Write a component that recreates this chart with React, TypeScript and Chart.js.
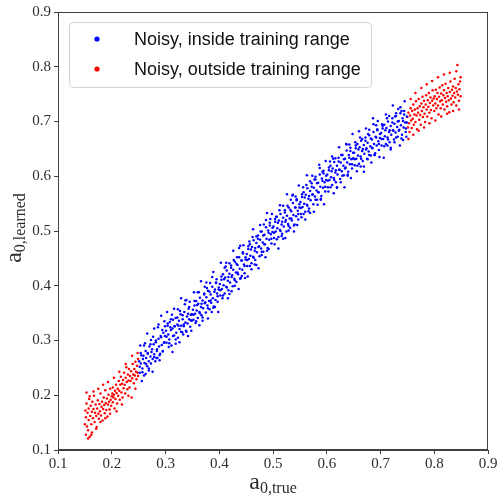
import React, { useEffect, useRef } from "react";
import { Chart, registerables } from "chart.js";

Chart.register(...registerables);

// Noisy estimates, inside training range (x = a0,true, y = a0,learned)
const blueSetA: [number, number][] = [
  [0.251, 0.262], [0.252, 0.241], [0.254, 0.258], [0.255, 0.273], [0.257, 0.249], [0.258, 0.266], [0.260, 0.236], [0.261, 0.259],
  [0.263, 0.281], [0.264, 0.268], [0.266, 0.253], [0.267, 0.277], [0.269, 0.262], [0.270, 0.289], [0.272, 0.271], [0.273, 0.258],
  [0.275, 0.284], [0.276, 0.266], [0.278, 0.293], [0.279, 0.275], [0.281, 0.262], [0.282, 0.297], [0.284, 0.281], [0.285, 0.268],
  [0.287, 0.303], [0.288, 0.289], [0.290, 0.276], [0.291, 0.308], [0.293, 0.292], [0.295, 0.281], [0.296, 0.314], [0.298, 0.297],
  [0.299, 0.326],
  [0.301, 0.318], [0.302, 0.296], [0.304, 0.327], [0.305, 0.311], [0.307, 0.302], [0.308, 0.334], [0.310, 0.319], [0.311, 0.291],
  [0.313, 0.322], [0.314, 0.338], [0.316, 0.309], [0.317, 0.326], [0.319, 0.341], [0.320, 0.314], [0.322, 0.329], [0.323, 0.305],
  [0.325, 0.336], [0.326, 0.321], [0.328, 0.348], [0.329, 0.327], [0.331, 0.315], [0.332, 0.339], [0.334, 0.326], [0.335, 0.352],
  [0.337, 0.333], [0.338, 0.318], [0.340, 0.344], [0.341, 0.331], [0.343, 0.358], [0.344, 0.339], [0.346, 0.325], [0.347, 0.347],
  [0.349, 0.336],
  [0.351, 0.356], [0.352, 0.338], [0.354, 0.364], [0.355, 0.349], [0.357, 0.372], [0.358, 0.355], [0.360, 0.341], [0.361, 0.367],
  [0.363, 0.352], [0.364, 0.378], [0.366, 0.361], [0.367, 0.346], [0.369, 0.373], [0.370, 0.359], [0.372, 0.386], [0.373, 0.368],
  [0.375, 0.351], [0.376, 0.379], [0.378, 0.364], [0.379, 0.391], [0.381, 0.372], [0.382, 0.357], [0.384, 0.384], [0.385, 0.369],
  [0.387, 0.398], [0.388, 0.377], [0.390, 0.362], [0.391, 0.389], [0.393, 0.374], [0.394, 0.405], [0.396, 0.386], [0.397, 0.371],
  [0.399, 0.397],
  [0.401, 0.403], [0.402, 0.382], [0.404, 0.411], [0.405, 0.394], [0.407, 0.421], [0.408, 0.401], [0.410, 0.386], [0.411, 0.415],
  [0.413, 0.398], [0.414, 0.428], [0.416, 0.409], [0.417, 0.392], [0.419, 0.422], [0.420, 0.406], [0.422, 0.437], [0.423, 0.416],
  [0.425, 0.399], [0.426, 0.429], [0.428, 0.413], [0.429, 0.444], [0.431, 0.424], [0.432, 0.407], [0.434, 0.438], [0.435, 0.421],
  [0.437, 0.452], [0.438, 0.431], [0.440, 0.414], [0.441, 0.446], [0.443, 0.429], [0.444, 0.461], [0.446, 0.439], [0.447, 0.423],
  [0.449, 0.452],
  [0.451, 0.458], [0.452, 0.436], [0.454, 0.467], [0.455, 0.449], [0.457, 0.476], [0.458, 0.455], [0.460, 0.441], [0.461, 0.471],
  [0.463, 0.453], [0.464, 0.483], [0.466, 0.464], [0.467, 0.447], [0.469, 0.478], [0.470, 0.461], [0.472, 0.492], [0.473, 0.471],
  [0.475, 0.454], [0.476, 0.484], [0.478, 0.468], [0.479, 0.499], [0.481, 0.479], [0.482, 0.462], [0.484, 0.493], [0.485, 0.476],
  [0.487, 0.507], [0.488, 0.486], [0.490, 0.469], [0.491, 0.501], [0.493, 0.484], [0.494, 0.515], [0.496, 0.494], [0.497, 0.477],
  [0.499, 0.506],
  [0.501, 0.508], [0.502, 0.487], [0.504, 0.517], [0.505, 0.499], [0.507, 0.526], [0.508, 0.505], [0.510, 0.489], [0.511, 0.519],
  [0.513, 0.502], [0.514, 0.531], [0.516, 0.512], [0.517, 0.495], [0.519, 0.524], [0.520, 0.508], [0.522, 0.538], [0.523, 0.517],
  [0.525, 0.499], [0.526, 0.528], [0.528, 0.513], [0.529, 0.543], [0.531, 0.523], [0.532, 0.506], [0.534, 0.536], [0.535, 0.519],
  [0.537, 0.551], [0.538, 0.529], [0.540, 0.512], [0.541, 0.543], [0.543, 0.527], [0.544, 0.558], [0.546, 0.537], [0.547, 0.521],
  [0.549, 0.549],
  [0.551, 0.553], [0.552, 0.531], [0.554, 0.562], [0.555, 0.544], [0.557, 0.571], [0.558, 0.550], [0.560, 0.535], [0.561, 0.566],
  [0.563, 0.548], [0.564, 0.578], [0.566, 0.559], [0.567, 0.541], [0.569, 0.573], [0.570, 0.556], [0.572, 0.587], [0.573, 0.566],
  [0.575, 0.549], [0.576, 0.579], [0.578, 0.563], [0.579, 0.594], [0.581, 0.574], [0.582, 0.557], [0.584, 0.588], [0.585, 0.571],
  [0.587, 0.603], [0.588, 0.581], [0.590, 0.564], [0.591, 0.596], [0.593, 0.579], [0.594, 0.610], [0.596, 0.589], [0.597, 0.572],
  [0.599, 0.601],
  [0.601, 0.603], [0.602, 0.580], [0.604, 0.611], [0.605, 0.593], [0.607, 0.619], [0.608, 0.598], [0.610, 0.584], [0.611, 0.614],
  [0.613, 0.597], [0.614, 0.626], [0.616, 0.607], [0.617, 0.589], [0.619, 0.619], [0.620, 0.603], [0.622, 0.634], [0.623, 0.612],
  [0.625, 0.595], [0.626, 0.625], [0.628, 0.609], [0.629, 0.639], [0.631, 0.619], [0.632, 0.602], [0.634, 0.632], [0.635, 0.616],
  [0.637, 0.647], [0.638, 0.625], [0.640, 0.608], [0.641, 0.639], [0.643, 0.622], [0.644, 0.652], [0.646, 0.631], [0.647, 0.614],
  [0.649, 0.643],
  [0.651, 0.643], [0.652, 0.620], [0.654, 0.651], [0.655, 0.632], [0.657, 0.659], [0.658, 0.638], [0.660, 0.623], [0.661, 0.653],
  [0.663, 0.636], [0.664, 0.665], [0.666, 0.646], [0.667, 0.628], [0.669, 0.657], [0.670, 0.641], [0.672, 0.671], [0.673, 0.649],
  [0.675, 0.632], [0.676, 0.661], [0.678, 0.645], [0.679, 0.675], [0.681, 0.655], [0.682, 0.638], [0.684, 0.667], [0.685, 0.651],
  [0.687, 0.681], [0.688, 0.659], [0.690, 0.642], [0.691, 0.672], [0.693, 0.656], [0.694, 0.686], [0.696, 0.664], [0.697, 0.648],
  [0.699, 0.677],
  [0.701, 0.679], [0.702, 0.656], [0.704, 0.687], [0.705, 0.668], [0.707, 0.694], [0.708, 0.673], [0.710, 0.659], [0.711, 0.688],
  [0.713, 0.671], [0.714, 0.700], [0.716, 0.681], [0.717, 0.662], [0.719, 0.692], [0.720, 0.676], [0.722, 0.706], [0.723, 0.684],
  [0.725, 0.667], [0.726, 0.696], [0.728, 0.680], [0.729, 0.710], [0.731, 0.690], [0.732, 0.672], [0.734, 0.701], [0.735, 0.685],
  [0.737, 0.715], [0.738, 0.693], [0.740, 0.676], [0.741, 0.706], [0.743, 0.689], [0.744, 0.719], [0.746, 0.698], [0.747, 0.681],
  [0.749, 0.709],
];

const blueSetB: [number, number][] = [
  [0.252, 0.252], [0.254, 0.277], [0.257, 0.242], [0.259, 0.272], [0.262, 0.295], [0.264, 0.257], [0.267, 0.276], [0.269, 0.245],
  [0.272, 0.293], [0.274, 0.279], [0.277, 0.307], [0.279, 0.270], [0.282, 0.300], [0.284, 0.284], [0.287, 0.329], [0.289, 0.273],
  [0.292, 0.306], [0.294, 0.319], [0.297, 0.296], [0.299, 0.308],
  [0.302, 0.307], [0.304, 0.331], [0.307, 0.295], [0.309, 0.324], [0.312, 0.347], [0.314, 0.308], [0.317, 0.326], [0.319, 0.294],
  [0.322, 0.342], [0.324, 0.327], [0.327, 0.354], [0.329, 0.316], [0.332, 0.346], [0.334, 0.329], [0.337, 0.373], [0.339, 0.316],
  [0.342, 0.349], [0.344, 0.361], [0.347, 0.337], [0.349, 0.348],
  [0.352, 0.347], [0.354, 0.372], [0.357, 0.335], [0.359, 0.365], [0.362, 0.388], [0.364, 0.350], [0.367, 0.367], [0.369, 0.336],
  [0.372, 0.384], [0.374, 0.370], [0.377, 0.396], [0.379, 0.359], [0.382, 0.389], [0.384, 0.373], [0.387, 0.416], [0.389, 0.360],
  [0.392, 0.393], [0.394, 0.406], [0.397, 0.381], [0.399, 0.393],
  [0.402, 0.392], [0.404, 0.417], [0.407, 0.382], [0.409, 0.412], [0.412, 0.435], [0.414, 0.397], [0.417, 0.416], [0.419, 0.385],
  [0.422, 0.433], [0.424, 0.419], [0.427, 0.447], [0.429, 0.410], [0.432, 0.440], [0.434, 0.424], [0.437, 0.469], [0.439, 0.413],
  [0.442, 0.446], [0.444, 0.459], [0.447, 0.436], [0.449, 0.448],
  [0.452, 0.447], [0.454, 0.472], [0.457, 0.436], [0.459, 0.466], [0.462, 0.489], [0.464, 0.451], [0.467, 0.469], [0.469, 0.438],
  [0.472, 0.486], [0.474, 0.472], [0.477, 0.499], [0.479, 0.462], [0.482, 0.492], [0.484, 0.476], [0.487, 0.520], [0.489, 0.464],
  [0.492, 0.497], [0.494, 0.510], [0.497, 0.486], [0.499, 0.498],
  [0.502, 0.497], [0.504, 0.522], [0.507, 0.485], [0.509, 0.515], [0.512, 0.538], [0.514, 0.500], [0.517, 0.517], [0.519, 0.486],
  [0.522, 0.534], [0.524, 0.520], [0.527, 0.546], [0.529, 0.509], [0.532, 0.539], [0.534, 0.523], [0.537, 0.566], [0.539, 0.510],
  [0.542, 0.543], [0.544, 0.556], [0.547, 0.531], [0.549, 0.543],
  [0.552, 0.542], [0.554, 0.567], [0.557, 0.531], [0.559, 0.561], [0.562, 0.584], [0.564, 0.546], [0.567, 0.564], [0.569, 0.533],
  [0.572, 0.581], [0.574, 0.567], [0.577, 0.594], [0.579, 0.557], [0.582, 0.587], [0.584, 0.571], [0.587, 0.615], [0.589, 0.559],
  [0.592, 0.592], [0.594, 0.605], [0.597, 0.581], [0.599, 0.593],
  [0.602, 0.592], [0.604, 0.616], [0.607, 0.580], [0.609, 0.609], [0.612, 0.632], [0.614, 0.593], [0.617, 0.611], [0.619, 0.579],
  [0.622, 0.627], [0.624, 0.612], [0.627, 0.639], [0.629, 0.601], [0.632, 0.631], [0.634, 0.614], [0.637, 0.658], [0.639, 0.601],
  [0.642, 0.634], [0.644, 0.646], [0.647, 0.622], [0.649, 0.633],
  [0.652, 0.631], [0.654, 0.656], [0.657, 0.619], [0.659, 0.649], [0.662, 0.671], [0.664, 0.632], [0.667, 0.650], [0.669, 0.618],
  [0.672, 0.665], [0.674, 0.651], [0.677, 0.677], [0.679, 0.639], [0.682, 0.669], [0.684, 0.652], [0.687, 0.695], [0.689, 0.639],
  [0.692, 0.671], [0.694, 0.684], [0.697, 0.659], [0.699, 0.670],
  [0.702, 0.668], [0.704, 0.692], [0.707, 0.655], [0.709, 0.684], [0.712, 0.706], [0.714, 0.667], [0.717, 0.684], [0.719, 0.652],
  [0.722, 0.698], [0.724, 0.683], [0.727, 0.709], [0.729, 0.671], [0.732, 0.700], [0.734, 0.683], [0.737, 0.726], [0.739, 0.669],
  [0.742, 0.701], [0.744, 0.713], [0.747, 0.687], [0.749, 0.698],
];

// wider-scattered inside-range estimates
const blueSetC: [number, number][] = [
  [0.253, 0.291], [0.256, 0.226], [0.260, 0.291], [0.263, 0.239], [0.266, 0.313], [0.269, 0.249], [0.273, 0.301], [0.276, 0.243],
  [0.279, 0.322], [0.283, 0.268], [0.286, 0.324], [0.289, 0.264], [0.292, 0.345], [0.295, 0.280], [0.298, 0.335],
  [0.303, 0.352], [0.306, 0.288], [0.310, 0.339], [0.313, 0.279], [0.316, 0.358], [0.319, 0.302], [0.323, 0.357], [0.326, 0.297],
  [0.329, 0.377], [0.333, 0.311], [0.336, 0.366], [0.339, 0.374], [0.342, 0.308], [0.345, 0.371], [0.348, 0.318],
  [0.353, 0.388], [0.356, 0.332], [0.360, 0.388], [0.363, 0.328], [0.366, 0.408], [0.369, 0.342], [0.373, 0.398], [0.376, 0.406],
  [0.379, 0.340], [0.383, 0.405], [0.386, 0.352], [0.389, 0.425], [0.392, 0.361], [0.395, 0.412], [0.398, 0.352],
  [0.403, 0.442], [0.406, 0.377], [0.410, 0.433], [0.413, 0.442], [0.416, 0.377], [0.419, 0.441], [0.423, 0.390], [0.426, 0.464],
  [0.429, 0.400], [0.433, 0.452], [0.436, 0.394], [0.439, 0.473], [0.442, 0.418], [0.445, 0.474], [0.448, 0.414],
  [0.453, 0.417], [0.456, 0.481], [0.460, 0.430], [0.463, 0.503], [0.466, 0.439], [0.469, 0.490], [0.473, 0.432], [0.476, 0.511],
  [0.479, 0.456], [0.483, 0.512], [0.486, 0.452], [0.489, 0.533], [0.492, 0.467], [0.495, 0.522], [0.498, 0.531],
  [0.503, 0.476], [0.506, 0.526], [0.510, 0.468], [0.513, 0.547], [0.516, 0.491], [0.519, 0.546], [0.523, 0.487], [0.526, 0.567],
  [0.529, 0.501], [0.533, 0.557], [0.536, 0.565], [0.539, 0.499], [0.542, 0.563], [0.545, 0.511], [0.548, 0.583],
  [0.553, 0.525], [0.556, 0.580], [0.560, 0.521], [0.563, 0.602], [0.566, 0.536], [0.569, 0.591], [0.573, 0.601], [0.576, 0.535],
  [0.579, 0.599], [0.583, 0.548], [0.586, 0.621], [0.589, 0.557], [0.592, 0.608], [0.595, 0.549], [0.598, 0.628],
  [0.603, 0.572], [0.606, 0.627], [0.610, 0.636], [0.613, 0.569], [0.616, 0.633], [0.619, 0.580], [0.623, 0.653], [0.626, 0.589],
  [0.629, 0.639], [0.633, 0.580], [0.636, 0.659], [0.639, 0.603], [0.642, 0.658], [0.645, 0.597], [0.648, 0.677],
  [0.653, 0.662], [0.656, 0.609], [0.660, 0.682], [0.663, 0.618], [0.666, 0.668], [0.669, 0.608], [0.673, 0.687], [0.676, 0.631],
  [0.679, 0.685], [0.683, 0.625], [0.686, 0.706], [0.689, 0.639], [0.692, 0.693], [0.695, 0.701], [0.698, 0.635],
  [0.703, 0.695], [0.706, 0.634], [0.710, 0.713], [0.713, 0.656], [0.716, 0.710], [0.719, 0.649], [0.723, 0.729], [0.726, 0.662],
  [0.729, 0.715], [0.733, 0.723], [0.736, 0.656], [0.739, 0.719], [0.742, 0.666], [0.745, 0.737], [0.748, 0.672],
];

// Noisy estimates, outside training range (low end)
const redLow: [number, number][] = [
  [0.150, 0.147], [0.151, 0.172], [0.152, 0.128], [0.152, 0.160], [0.153, 0.185], [0.154, 0.143], [0.155, 0.168], [0.156, 0.136],
  [0.157, 0.176], [0.157, 0.155], [0.158, 0.193], [0.159, 0.124], [0.160, 0.162], [0.161, 0.181], [0.162, 0.147], [0.163, 0.170],
  [0.163, 0.132], [0.164, 0.188], [0.165, 0.158], [0.166, 0.175], [0.167, 0.199], [0.168, 0.151], [0.169, 0.168], [0.170, 0.183],
  [0.171, 0.162], [0.172, 0.142], [0.173, 0.176], [0.174, 0.191], [0.175, 0.166], [0.176, 0.157], [0.177, 0.184], [0.178, 0.171],
  [0.179, 0.203], [0.180, 0.163], [0.181, 0.179], [0.182, 0.188], [0.183, 0.154], [0.184, 0.175], [0.185, 0.196], [0.186, 0.182],
  [0.187, 0.167], [0.188, 0.209], [0.189, 0.186], [0.190, 0.173], [0.191, 0.194], [0.192, 0.161], [0.193, 0.183], [0.194, 0.201],
  [0.195, 0.188], [0.196, 0.174], [0.197, 0.212], [0.198, 0.192], [0.199, 0.181],
  [0.200, 0.198], [0.201, 0.203], [0.202, 0.187], [0.202, 0.214], [0.203, 0.196], [0.204, 0.201], [0.205, 0.176], [0.206, 0.208],
  [0.207, 0.193], [0.208, 0.219], [0.209, 0.204], [0.210, 0.185], [0.211, 0.212], [0.212, 0.199], [0.213, 0.226], [0.214, 0.208],
  [0.215, 0.192], [0.216, 0.219], [0.217, 0.234], [0.218, 0.205], [0.219, 0.221], [0.220, 0.196], [0.221, 0.228], [0.222, 0.213],
  [0.223, 0.241], [0.224, 0.219], [0.225, 0.203], [0.226, 0.232], [0.227, 0.251], [0.228, 0.224], [0.229, 0.211], [0.230, 0.238],
  [0.231, 0.227], [0.232, 0.248], [0.233, 0.214], [0.234, 0.235], [0.235, 0.226], [0.236, 0.244], [0.237, 0.196], [0.238, 0.231],
  [0.239, 0.257], [0.240, 0.238], [0.241, 0.222], [0.242, 0.248], [0.243, 0.236], [0.244, 0.261], [0.245, 0.243], [0.246, 0.229],
  [0.247, 0.254], [0.248, 0.241], [0.249, 0.266], [0.249, 0.235],
  [0.153, 0.205], [0.156, 0.121], [0.159, 0.198], [0.162, 0.128], [0.166, 0.207], [0.171, 0.139], [0.175, 0.212], [0.179, 0.151],
  [0.184, 0.219], [0.188, 0.158], [0.193, 0.224], [0.197, 0.166], [0.204, 0.232], [0.209, 0.171], [0.214, 0.243], [0.219, 0.183],
  [0.226, 0.257], [0.231, 0.199], [0.238, 0.272], [0.244, 0.212], [0.248, 0.277],
];

// Noisy estimates, outside training range (high end)
const redHigh: [number, number][] = [
  [0.750, 0.708], [0.751, 0.689], [0.752, 0.716], [0.753, 0.697], [0.754, 0.681], [0.755, 0.711], [0.756, 0.724], [0.757, 0.702],
  [0.758, 0.688], [0.759, 0.719], [0.760, 0.705], [0.761, 0.731], [0.762, 0.694], [0.763, 0.713], [0.764, 0.722], [0.765, 0.699],
  [0.766, 0.737], [0.767, 0.711], [0.768, 0.686], [0.769, 0.724], [0.770, 0.716], [0.771, 0.741], [0.772, 0.703], [0.773, 0.728],
  [0.774, 0.712], [0.775, 0.694], [0.776, 0.733], [0.777, 0.719], [0.778, 0.745], [0.779, 0.708], [0.780, 0.726], [0.781, 0.738],
  [0.782, 0.714], [0.783, 0.699], [0.784, 0.731], [0.785, 0.748], [0.786, 0.722], [0.787, 0.709], [0.788, 0.739], [0.789, 0.727],
  [0.790, 0.752], [0.791, 0.716], [0.792, 0.734], [0.793, 0.744], [0.794, 0.721], [0.795, 0.706], [0.796, 0.738], [0.797, 0.757],
  [0.798, 0.729], [0.799, 0.742],
  [0.800, 0.719], [0.801, 0.746], [0.802, 0.733], [0.803, 0.758], [0.804, 0.724], [0.805, 0.741], [0.806, 0.752], [0.807, 0.729],
  [0.808, 0.713], [0.809, 0.745], [0.810, 0.762], [0.811, 0.737], [0.812, 0.724], [0.813, 0.751], [0.814, 0.739], [0.815, 0.766],
  [0.816, 0.731], [0.817, 0.748], [0.818, 0.757], [0.819, 0.722], [0.820, 0.743], [0.821, 0.769], [0.822, 0.736], [0.823, 0.752],
  [0.824, 0.728], [0.825, 0.746], [0.826, 0.761], [0.827, 0.739], [0.828, 0.717], [0.829, 0.754], [0.830, 0.773], [0.831, 0.742],
  [0.832, 0.731], [0.833, 0.758], [0.834, 0.747], [0.835, 0.764], [0.836, 0.735], [0.837, 0.752], [0.838, 0.778], [0.839, 0.744],
  [0.840, 0.761], [0.841, 0.729], [0.842, 0.755], [0.843, 0.803], [0.844, 0.749], [0.845, 0.768], [0.846, 0.738], [0.847, 0.759],
  [0.848, 0.773], [0.849, 0.746],
  [0.752, 0.668], [0.756, 0.741], [0.761, 0.676], [0.765, 0.752], [0.771, 0.683], [0.776, 0.761], [0.781, 0.689], [0.786, 0.768],
  [0.791, 0.697], [0.796, 0.774], [0.802, 0.702], [0.807, 0.781], [0.813, 0.709], [0.818, 0.786], [0.824, 0.714], [0.829, 0.789],
  [0.835, 0.719], [0.841, 0.792], [0.846, 0.722], [0.849, 0.781],
];

const xTickValues = [0.1, 0.2, 0.3, 0.4, 0.5, 0.6, 0.7, 0.8, 0.9];
const yTickValues = [0.1, 0.2, 0.3, 0.4, 0.5, 0.6, 0.7, 0.8, 0.9];
const seriesLabels = ["Noisy, inside training range", "Noisy, outside training range"];
const seriesColors = ["#0000ff", "#ff0000"];
const xTitle = { main: "a", sub: "0,true" };
const yTitle = { main: "a", sub: "0,learned" };

const TEXT = "#2e2e2e";
const SERIF = "'Liberation Serif', 'DejaVu Serif', serif";
const SANS = "'Liberation Sans', 'DejaVu Sans', sans-serif";

const toPoints = (arr: [number, number][]) => arr.map(([x, y]) => ({ x, y }));

const framePlugin = {
  id: "frame",
  afterDatasetsDraw(chart: any) {
    const { ctx, chartArea } = chart;
    ctx.save();
    ctx.strokeStyle = "#404040";
    ctx.lineWidth = 1;
    const l = Math.round(chartArea.left) + 0.5;
    const t = Math.round(chartArea.top) + 0.5;
    const r = Math.round(chartArea.right) - 0.5;
    const b = Math.round(chartArea.bottom) - 0.5;
    ctx.strokeRect(l, t, r - l, b - t);
    ctx.restore();
  },
};

const legendPlugin = {
  id: "innerLegend",
  afterDatasetsDraw(chart: any) {
    const { ctx, chartArea } = chart;
    const x0 = chartArea.left + 11;
    const y0 = chartArea.top + 10;
    const w = 302;
    const h = 65;
    ctx.save();
    ctx.beginPath();
    if ((ctx as any).roundRect) (ctx as any).roundRect(x0 + 0.5, y0 + 0.5, w, h, 4);
    else ctx.rect(x0 + 0.5, y0 + 0.5, w, h);
    ctx.fillStyle = "rgba(255,255,255,0.85)";
    ctx.fill();
    ctx.strokeStyle = "#d4d4d4";
    ctx.lineWidth = 1;
    ctx.stroke();
    chart.data.datasets.forEach((ds: any, i: number) => {
      const cy = y0 + 17 + i * 30;
      ctx.beginPath();
      ctx.arc(x0 + 28, cy, 2.6, 0, Math.PI * 2);
      ctx.fillStyle = ds.backgroundColor;
      ctx.fill();
      ctx.fillStyle = "#111";
      ctx.font = `18px ${SANS}`;
      ctx.textBaseline = "middle";
      ctx.textAlign = "left";
      ctx.fillText(ds.label, x0 + 65, cy + 1);
    });
    ctx.restore();
  },
};

const titlesPlugin = {
  id: "mathTitles",
  afterDraw(chart: any) {
    const { ctx, chartArea } = chart;
    const mainFont = `24px ${SERIF}`;
    const subFont = `16px ${SERIF}`;
    const drawLabel = (main: string, sub: string) => {
      ctx.font = mainFont;
      const wm = ctx.measureText(main).width;
      ctx.font = subFont;
      const ws = ctx.measureText(sub).width;
      const start = -(wm + ws) / 2;
      ctx.textAlign = "left";
      ctx.textBaseline = "alphabetic";
      ctx.fillStyle = TEXT;
      ctx.font = mainFont;
      ctx.fillText(main, start, 0);
      ctx.font = subFont;
      ctx.fillText(sub, start + wm, 4);
    };
    ctx.save();
    ctx.translate((chartArea.left + chartArea.right) / 2, 489);
    drawLabel(xTitle.main, xTitle.sub);
    ctx.restore();
    ctx.save();
    ctx.translate(21, 228);
    ctx.rotate(-Math.PI / 2);
    drawLabel(yTitle.main, yTitle.sub);
    ctx.restore();
  },
};

export default function App() {
  const canvasRef = useRef<HTMLCanvasElement | null>(null);

  useEffect(() => {
    const canvas = canvasRef.current;
    if (!canvas) return;
    const tickFont = { family: SERIF, size: 15 };
    const chart = new Chart(canvas, {
      type: "scatter",
      data: {
        datasets: [
          {
            label: seriesLabels[0],
            data: [...toPoints(blueSetA), ...toPoints(blueSetB), ...toPoints(blueSetC)],
            backgroundColor: seriesColors[0],
            borderWidth: 0,
            pointRadius: 1.25,
          },
          {
            label: seriesLabels[1],
            data: [...toPoints(redLow), ...toPoints(redHigh)],
            backgroundColor: seriesColors[1],
            borderWidth: 0,
            pointRadius: 1.25,
          },
        ],
      },
      options: {
        animation: false,
        responsive: false,
        devicePixelRatio: 1,
        layout: { padding: { top: 10, right: 11, left: 0, bottom: 0 } },
        plugins: {
          legend: { display: false },
          tooltip: { enabled: false },
        },
        scales: {
          x: {
            type: "linear",
            min: 0.1,
            max: 0.9,
            afterBuildTicks: (scale: any) => {
              scale.ticks = xTickValues.map((v) => ({ value: v }));
            },
            afterFit: (scale: any) => {
              scale.height = 50;
            },
            ticks: {
              font: tickFont,
              color: TEXT,
              padding: 1,
              maxRotation: 0,
              callback: (v: any) => Number(v).toFixed(1),
            },
            grid: { drawOnChartArea: false, drawTicks: true, tickLength: 4, color: "#404040" },
            border: { display: true, color: "#404040" },
          },
          y: {
            type: "linear",
            min: 0.1,
            max: 0.9,
            afterBuildTicks: (scale: any) => {
              scale.ticks = yTickValues.map((v) => ({ value: v }));
            },
            afterFit: (scale: any) => {
              scale.width = 58;
            },
            ticks: {
              font: tickFont,
              color: TEXT,
              padding: 3,
              callback: (v: any) => Number(v).toFixed(1),
            },
            grid: { drawOnChartArea: false, drawTicks: true, tickLength: 4, color: "#404040" },
            border: { display: true, color: "#404040" },
          },
        },
      } as any,
      plugins: [framePlugin, legendPlugin, titlesPlugin],
    });
    return () => chart.destroy();
  }, []);

  return (
    <div style={{ position: "absolute", left: 0, top: 0, width: 499, height: 500, background: "#fff" }}>
      <canvas ref={canvasRef} width={499} height={500} style={{ display: "block" }} />
    </div>
  );
}
